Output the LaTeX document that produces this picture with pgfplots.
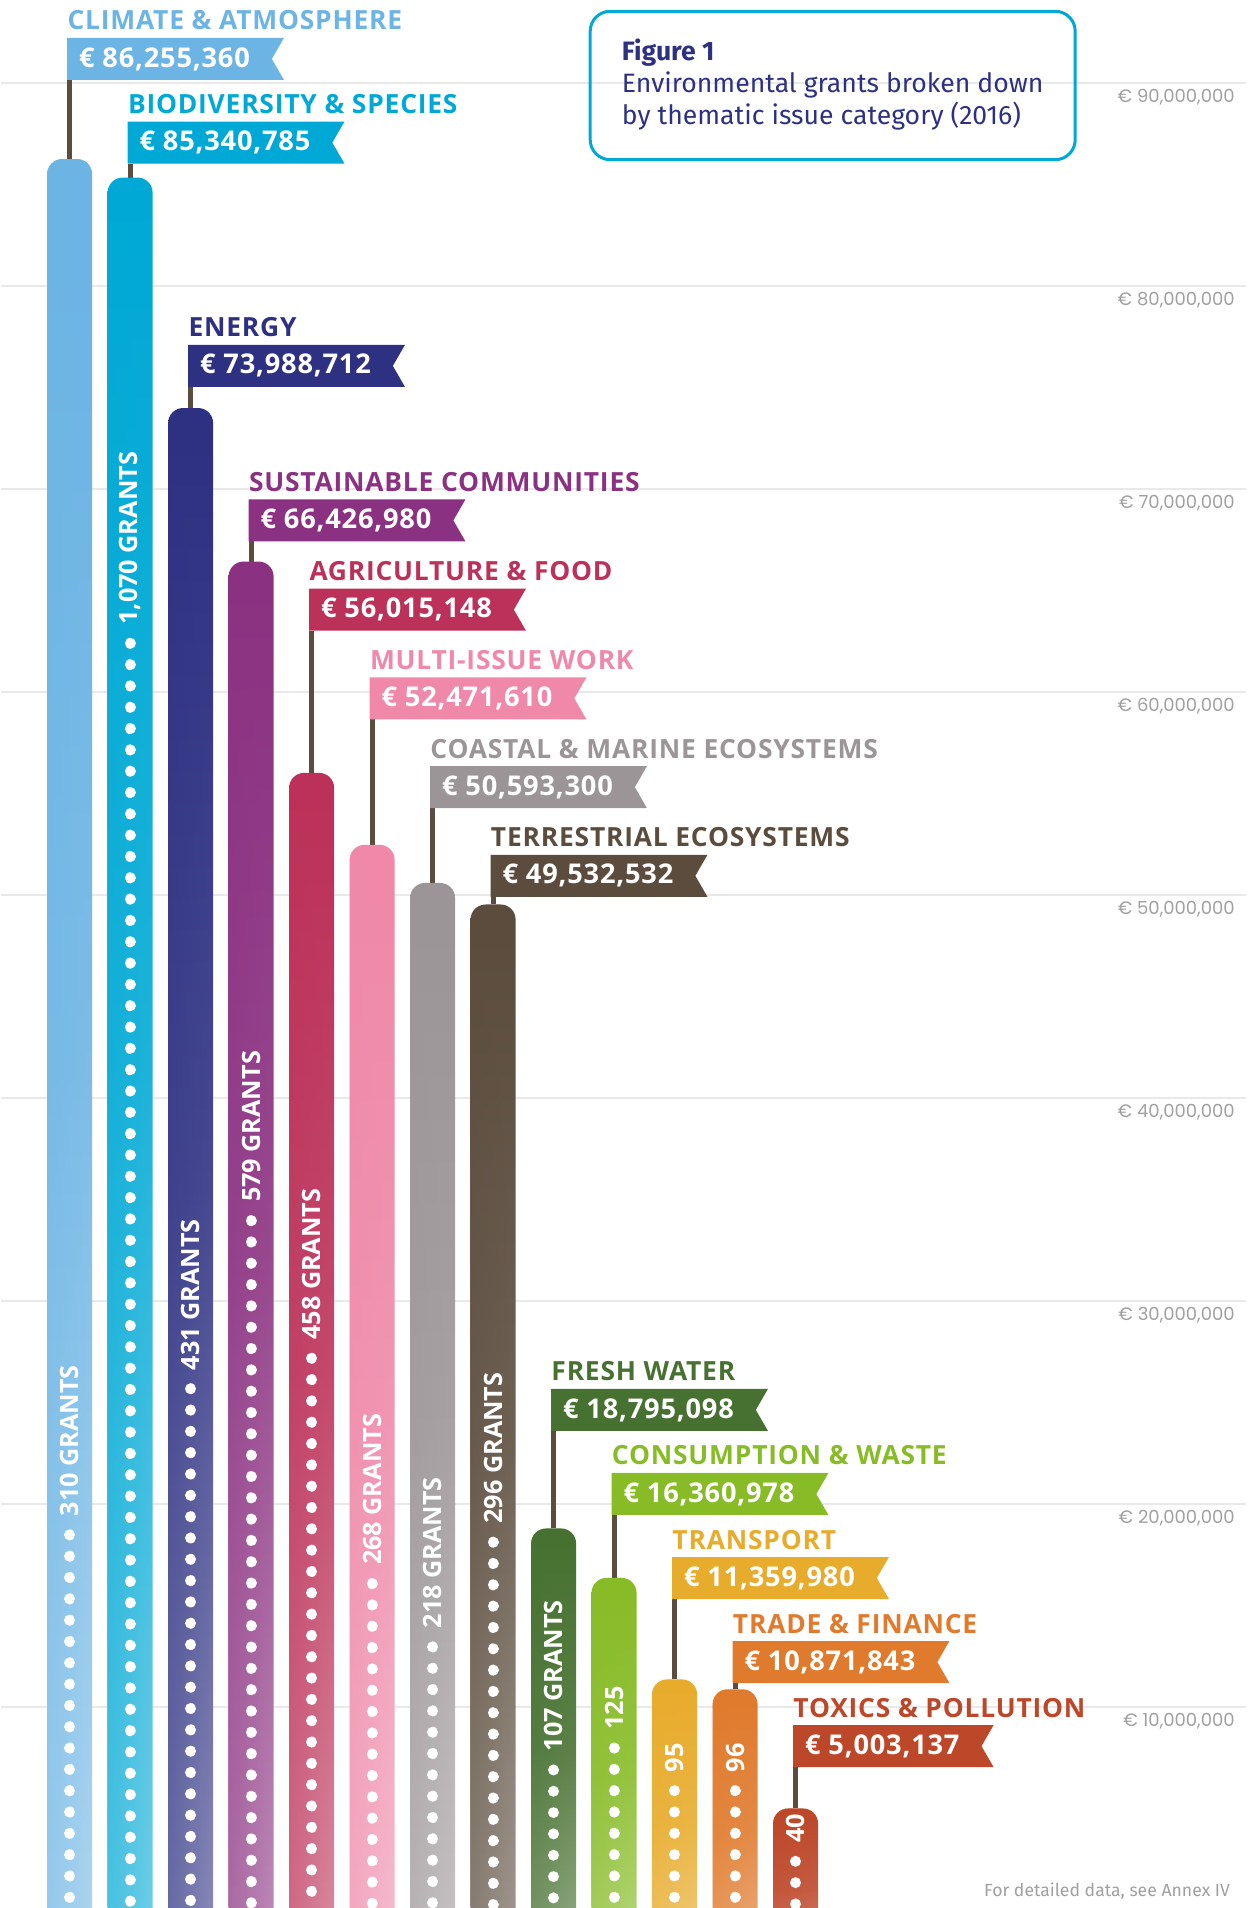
\documentclass[border=0pt]{standalone}
\usepackage{fontspec}
\setmainfont{Fira Sans}
\newfontfamily\bfam{Open Sans}
\newfontfamily\bfamwide{Open Sans}[LetterSpace=3]
\newfontfamily\tickfam{Poppins}
\usepackage{pgfplots}
\pgfplotsset{compat=1.18}
\usetikzlibrary{shapes.symbols,fadings}

\tikzfading[name=leftfade, left color=transparent!65, right color=transparent!100]

\definecolor{cclimate}{HTML}{6BB4E4}
\definecolor{cbio}{HTML}{00A9D5}
\definecolor{cenergy}{HTML}{2E3182}
\definecolor{csust}{HTML}{8B3181}
\definecolor{cagri}{HTML}{BC3159}
\definecolor{cmulti}{HTML}{EF88A9}
\definecolor{ccoast}{HTML}{9C9598}
\definecolor{cterr}{HTML}{5B4C3D}
\definecolor{cfresh}{HTML}{467130}
\definecolor{ccons}{HTML}{87BC27}
\definecolor{ctrans}{HTML}{E8AC2C}
\definecolor{ctrade}{HTML}{E07A2C}
\definecolor{ctox}{HTML}{BD4729}
\definecolor{cpole}{HTML}{5B4C3D}
\definecolor{cgrid}{HTML}{E9E9E9}
\definecolor{ctick}{HTML}{A0A0A0}
\definecolor{ctitle}{HTML}{2E3182}
\definecolor{cbox}{HTML}{00A9D5}

\newcommand\labfont{\bfamwide\bfseries\fontsize{13.2}{15}\selectfont}
\newcommand\flagfont{\bfamwide\bfseries\fontsize{13.6}{15}\selectfont}
\newcommand\grantfont{\bfam\bfseries\fontsize{12.6}{14}\selectfont}
\newcommand\tickfont{\tickfam\fontsize{9}{10}\selectfont}

\tikzset{flag/.style={shape=signal, signal to=nowhere, signal from=east,
  signal pointer angle=120, anchor=south west, xshift=-1.25pt,
  inner xsep=6pt, inner ysep=0pt, minimum height=21pt, text=white,
  font=\flagfont, outer sep=0pt}}

% #1 index, #2 amount (million EUR), #3 height of the dot column (million EUR),
% #4 flag height (million EUR), #5 colour, #6 name, #7 amount text, #8 grants text
\newcommand\issue[8]{%
  \addplot[draw=cpole, line width=2.5pt] coordinates {(#1,#2) (#1,#4)};
  \addplot[draw=none, top color=#5, bottom color=#5!55!white, middle color=#5!88!white,
    rounded corners=7.5pt, x filter/.expression={x+#1}]
    coordinates {(-0.372,-3) (-0.372,#2) (0.372,#2) (0.372,-3)};
  \addplot[draw=none, fill=#5, path fading=leftfade,
    rounded corners=7.5pt, x filter/.expression={x+#1}]
    coordinates {(-0.372,-3) (-0.372,#2) (0.372,#2) (0.372,-3)};
  \addplot[draw=white, line width=5.5pt, line cap=round, dash pattern=on 0.01pt off 10.65pt]
    coordinates {(#1,#3) (#1,0)};
  \addplot[draw=none, y filter/.expression={y+0.8}, nodes near coords={#8},
    every node near coord/.style={rotate=90, anchor=west, text=white, font=\grantfont, inner sep=1pt}]
    coordinates {(#1,#3)};
  \node[flag, fill=#5] (f#1) at (axis cs:#1,#4) {€ #7\kern5pt};
  \node[anchor=base west, inner sep=0pt, text=#5, font=\labfont] at ([yshift=4pt]f#1.north west) {#6};
}

\begin{document}
\begin{tikzpicture}
\begin{axis}[
  scale only axis, width=622.5pt, height=954pt,
  xmin=-1.129, xmax=19.45, ymin=0.1, ymax=94.09,
  axis line style={draw=none}, tick style={draw=none}, major tick length=0pt,
  xtick=\empty, ytick={10,20,...,90},
  yticklabels={{€ 10,000,000},{€ 20,000,000},{€ 30,000,000},{€ 40,000,000},{€ 50,000,000},{€ 60,000,000},{€ 70,000,000},{€ 80,000,000},{€ 90,000,000}},
  yticklabel pos=right,
  yticklabel style={font=\tickfont, text=ctick, anchor=north east, xshift=-4.6pt, yshift=-2pt, inner sep=1pt},
  ymajorgrids, grid style={draw=cgrid, line width=1.3pt},
  no markers,
]
% grants: 310, 1070, 431, 579, 458, 268, 218, 296, 107, 125, 95, 96, 40
\issue{0}{86.255360}{18.48}{90.15}{cclimate}{CLIMATE \& ATMOSPHERE}{86,255,360}{310 GRANTS}
\issue{1}{85.340785}{62.40}{86.03}{cbio}{BIODIVERSITY \& SPECIES}{85,340,785}{1,070 GRANTS}
\issue{2}{73.988712}{25.68}{75.03}{cenergy}{ENERGY}{73,988,712}{431 GRANTS}
\issue{3}{66.426980}{33.96}{67.42}{csust}{SUSTAINABLE COMMUNITIES}{66,426,980}{579 GRANTS}
\issue{4}{56.015148}{27.18}{63.02}{cagri}{AGRICULTURE \& FOOD}{56,015,148}{458 GRANTS}
\issue{5}{52.471610}{16.08}{58.65}{cmulti}{MULTI-ISSUE WORK}{52,471,610}{268 GRANTS}
\issue{6}{50.593300}{12.96}{54.28}{ccoast}{COASTAL \& MARINE ECOSYSTEMS}{50,593,300}{218 GRANTS}
\issue{7}{49.532532}{18.12}{49.91}{cterr}{TERRESTRIAL ECOSYSTEMS}{49,532,532}{296 GRANTS}
\issue{8}{18.795098}{6.90}{23.60}{cfresh}{FRESH WATER}{18,795,098}{107 GRANTS}
\issue{9}{16.360978}{7.98}{19.46}{ccons}{CONSUMPTION \& WASTE}{16,360,978}{125}
\issue{10}{11.359980}{5.88}{15.32}{ctrans}{TRANSPORT}{11,359,980}{95}
\issue{11}{10.871843}{5.88}{11.18}{ctrade}{TRADE \& FINANCE}{10,871,843}{96}
\issue{12}{5.003137}{2.40}{7.04}{ctox}{TOXICS \& POLLUTION}{5,003,137}{40}

\node[draw=cbox, line width=1.5pt, rounded corners=10pt, anchor=north west,
  minimum width=242.5pt, minimum height=74.2pt, inner sep=0pt]
  at (rel axis cs:0.4718,0.99486) {};
\node[anchor=base west, inner sep=0pt, text=ctitle, font=\bfseries\fontsize{13.3}{15}\selectfont]
  at (rel axis cs:0.49815,0.96803) {Figure 1};
\node[anchor=base west, inner sep=0pt, text=ctitle, font=\fontsize{13.3}{15}\selectfont]
  at (rel axis cs:0.49815,0.95126) {Environmental grants broken down};
\node[anchor=base west, inner sep=0pt, text=ctitle, font=\fontsize{13.3}{15}\selectfont]
  at (rel axis cs:0.49815,0.93475) {by thematic issue category (2016)};
\node[anchor=base east, inner sep=0pt, text=ctick, font=\fontsize{8.8}{10}\selectfont,
  xshift=-8pt, yshift=5.6pt] at (rel axis cs:1,0) {For detailed data, see Annex IV};
\end{axis}
\end{tikzpicture}
\end{document}
